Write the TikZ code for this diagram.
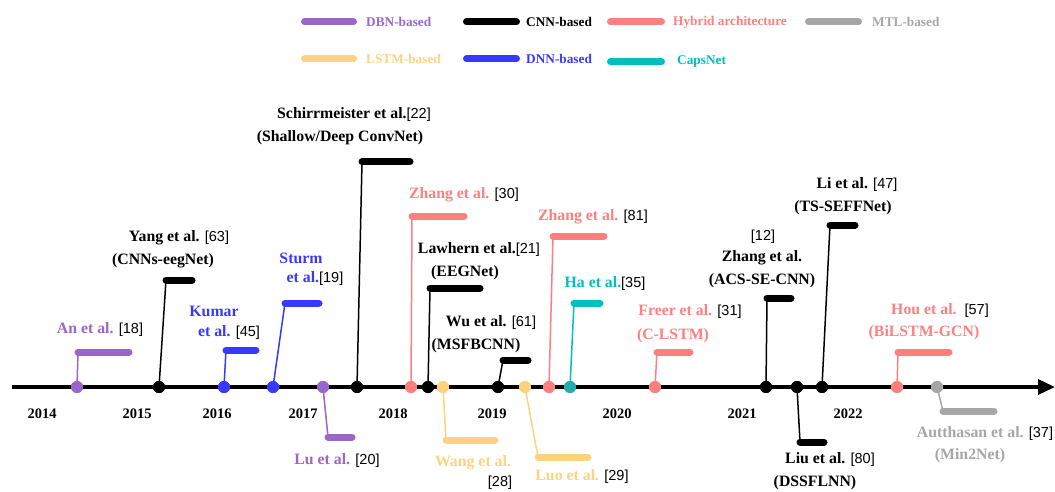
\documentclass[tikz,border=0pt]{standalone}
\usepackage{fontspec}
\setmainfont{Liberation Serif}
\newfontfamily\refsans{Liberation Sans}
\usetikzlibrary{arrows.meta}
\definecolor{dbn}{HTML}{9966CC}
\definecolor{hyb}{HTML}{FF7F7F}
\definecolor{mtl}{HTML}{A6A6A6}
\definecolor{lstm}{HTML}{FFD27F}
\definecolor{dnn}{HTML}{3838FF}
\definecolor{caps}{HTML}{00BFBF}
\newcommand{\nmfont}{\fontsize{15.8}{18}\selectfont\bfseries}
\newcommand{\rf}[1]{{\color{black}\refsans\mdseries\fontsize{14.5}{17}\selectfont #1}}
\newcommand{\yrfont}{\fontsize{14.5}{17}\selectfont\bfseries}
\newcommand{\lgfont}{\fontsize{13.3}{16}\selectfont\bfseries}
\tikzset{
  x=1pt, y=-1pt,
  ev/.style={circle, fill=#1, inner sep=0pt, minimum size=12pt},
  stemline/.style={draw=#1, line width=1.5pt},
  barline/.style={draw=#1, line width=7pt, line cap=round},
  lab/.style={text=#1, font=\nmfont, inner sep=0pt},
  yr/.style={font=\yrfont, inner sep=0pt},
  lg/.style={text=#1, font=\lgfont, inner sep=0pt, anchor=west},
  axisline/.style={draw=black, line width=3.5pt},
}
\begin{document}
\begin{tikzpicture}
\useasboundingbox (0,0) rectangle (1055,492);
% ---------- legend ----------
\coordinate (l1a) at (304.5,22); \coordinate (l1b) at (353.5,22);
\coordinate (l2a) at (466.5,22); \coordinate (l2b) at (516.5,22);
\coordinate (l3a) at (610.5,22); \coordinate (l3b) at (661.5,22);
\coordinate (l4a) at (808.5,22); \coordinate (l4b) at (858.5,22);
\coordinate (l5a) at (304.5,59); \coordinate (l5b) at (353.5,59);
\coordinate (l6a) at (466.5,59); \coordinate (l6b) at (516.5,59);
\coordinate (l7a) at (610.5,62); \coordinate (l7b) at (661.5,62);
\draw[barline=dbn] (l1a) -- (l1b);
\draw[barline=black] (l2a) -- (l2b);
\draw[barline=hyb] (l3a) -- (l3b);
\draw[barline=mtl] (l4a) -- (l4b);
\draw[barline=lstm] (l5a) -- (l5b);
\draw[barline=dnn] (l6a) -- (l6b);
\draw[barline=caps] (l7a) -- (l7b);
\node[lg=dbn] (t1) at (366,22) {DBN-based};
\node[lg=black] (t2) at (526,22) {CNN-based};
\node[lg=hyb] (t3) at (673,22) {Hybrid architecture};
\node[lg=mtl] (t4) at (872,22) {MTL-based};
\node[lg=lstm] (t5) at (366,59) {LSTM-based};
\node[lg=dnn] (t6) at (526,59) {DNN-based};
\node[lg=caps] (t7) at (677,62) {CapsNet};
% ---------- axis ----------
\coordinate (ax0) at (12,387);
\coordinate (ax1) at (1055,387);
\draw[axisline, -{Triangle[length=17pt,width=15pt]}] (ax0) -- (ax1);
% ---------- years ----------
\node[yr] (y14) at (42,414) {2014};
\node[yr] (y15) at (137,414) {2015};
\node[yr] (y16) at (217,414) {2016};
\node[yr] (y17) at (303,414) {2017};
\node[yr] (y18) at (393,414) {2018};
\node[yr] (y19) at (492,414) {2019};
\node[yr] (y20) at (617,414) {2020};
\node[yr] (y21) at (742,414) {2021};
\node[yr] (y22) at (848,414) {2022};
% ---------- event coordinates ----------
\coordinate (anA) at (78,352);   \coordinate (anB) at (129,352);
\coordinate (yaA) at (166,280);  \coordinate (yaB) at (192,280);
\coordinate (kuA) at (226,350);  \coordinate (kuB) at (256,350);
\coordinate (stA) at (285,303);  \coordinate (stB) at (319,303);
\coordinate (luA) at (328,437);  \coordinate (luB) at (352,437);
\coordinate (scA) at (362,162);  \coordinate (scB) at (410,162);
\coordinate (zaA) at (412,216);  \coordinate (zaB) at (464,216);
\coordinate (lwA) at (430,288);  \coordinate (lwB) at (480,288);
\coordinate (waA) at (446,440);  \coordinate (waB) at (495,440);
\coordinate (wuA) at (503,360);  \coordinate (wuB) at (528,360);
\coordinate (loA) at (538,457);  \coordinate (loB) at (588,457);
\coordinate (zbA) at (553,236);  \coordinate (zbB) at (604,236);
\coordinate (haA) at (574,303);  \coordinate (haB) at (600,303);
\coordinate (frA) at (657,352);  \coordinate (frB) at (690,352);
\coordinate (zcA) at (767,298);  \coordinate (zcB) at (791,298);
\coordinate (liuA) at (800,442); \coordinate (liuB) at (824,442);
\coordinate (liA) at (830,225);  \coordinate (liB) at (855,225);
\coordinate (hoA) at (898,352);  \coordinate (hoB) at (949,352);
\coordinate (auA) at (943,411);  \coordinate (auB) at (994,411);
% ---------- dots (placed, drawn later) ----------
\path
 (77,387)  node[ev=dbn]  (an) {}
 (159,387) node[ev=black] (ya) {}
 (224,387) node[ev=dnn]  (ku) {}
 (273,387) node[ev=dnn]  (st) {}
 (323,387) node[ev=dbn]  (lu) {}
 (357,387) node[ev=black] (sc) {}
 (411,387) node[ev=hyb]  (za) {}
 (428,387) node[ev=black] (lw) {}
 (443,387) node[ev=lstm] (wa) {}
 (498,387) node[ev=black] (wu) {}
 (525,387) node[ev=lstm] (lo) {}
 (549,387) node[ev=hyb]  (zb) {}
 (570,387) node[ev=caps!70!gray] (ha) {}
 (655,387) node[ev=hyb]  (fr) {}
 (766,387) node[ev=black] (zc) {}
 (797,387) node[ev=black] (liu) {}
 (822,387) node[ev=black] (li) {}
 (897,387) node[ev=hyb]  (ho) {}
 (937,387) node[ev=mtl]  (au) {};
% ---------- stems ----------
\begin{scope}[on background layer/.style={}]
\draw[stemline=dbn] (an.center) -- (anA);
\draw[stemline=black] (ya.center) -- (yaA);
\draw[stemline=dnn] (ku.center) -- (kuA);
\draw[stemline=dnn] (st.center) -- (stA);
\draw[stemline=dbn] (lu.center) -- (luA);
\draw[stemline=black] (sc.center) -- (scA);
\draw[stemline=hyb] (za.center) -- (zaA);
\draw[stemline=black] (lw.center) -- (lwA);
\draw[stemline=lstm] (wa.center) -- (waA);
\draw[stemline=black] (wu.center) -- (wuA);
\draw[stemline=lstm] (lo.center) -- (loA);
\draw[stemline=hyb] (zb.center) -- (zbA);
\draw[stemline=caps] (ha.center) -- (haA);
\draw[stemline=hyb] (fr.center) -- (frA);
\draw[stemline=black] (zc.center) -- (zcA);
\draw[stemline=black] (liu.center) -- (liuA);
\draw[stemline=black] (li.center) -- (liA);
\draw[stemline=hyb] (ho.center) -- (hoA);
\draw[stemline=mtl] (au.center) -- (auA);
\end{scope}
% ---------- bars ----------
\draw[barline=dbn] (anA) -- (anB);
\draw[barline=black] (yaA) -- (yaB);
\draw[barline=dnn] (kuA) -- (kuB);
\draw[barline=dnn] (stA) -- (stB);
\draw[barline=dbn] (luA) -- (luB);
\draw[barline=black] (scA) -- (scB);
\draw[barline=hyb] (zaA) -- (zaB);
\draw[barline=black] (lwA) -- (lwB);
\draw[barline=lstm] (waA) -- (waB);
\draw[barline=black] (wuA) -- (wuB);
\draw[barline=lstm] (loA) -- (loB);
\draw[barline=hyb] (zbA) -- (zbB);
\draw[barline=caps] (haA) -- (haB);
\draw[barline=hyb] (frA) -- (frB);
\draw[barline=black] (zcA) -- (zcB);
\draw[barline=black] (liuA) -- (liuB);
\draw[barline=black] (liA) -- (liB);
\draw[barline=hyb] (hoA) -- (hoB);
\draw[barline=mtl] (auA) -- (auB);
% ---------- dots on top ----------
\foreach \n/\c in {an/dbn,ya/black,ku/dnn,st/dnn,lu/dbn,sc/black,za/hyb,lw/black,wa/lstm,wu/black,lo/lstm,zb/hyb,ha/caps!70!gray,fr/hyb,zc/black,liu/black,li/black,ho/hyb,au/mtl}
  \fill[\c] (\n.center) circle (6);
% ---------- labels ----------
\node[lab=dbn] (anL) at (100,330) {An et al. \rf{[18]}};
\node[lab=black] (yaL1) at (179,238) {Yang et al. \rf{[63]}};
\node[lab=black] (yaL2) at (163,261) {(CNNs-eegNet)};
\node[lab=dnn] (kuL1) at (214,311) {Kumar};
\node[lab=dnn] (kuL2) at (229,333) {et al. \rf{[45]}};
\node[lab=dnn] (stL1) at (301,258) {Sturm};
\node[lab=dnn] (stL2) at (315,279) {et al.\rf{[19]}};
\node[lab=dbn] (luL) at (337,461) {Lu et al. \rf{[20]}};
\node[lab=black] (scL1) at (354,115) {Schirrmeister et al.\rf{[22]}};
\node[lab=black] (scL2) at (340,138) {(Shallow/Deep ConvNet)};
\node[lab=hyb] (zaL) at (464,195) {Zhang et al. \rf{[30]}};
\node[lab=black] (lwL1) at (479,250) {Lawhern et al.\rf{[21]}};
\node[lab=black] (lwL2) at (465,273) {(EEGNet)};
\node[lab=lstm] (waL1) at (473,463) {Wang et al.};
\node[lab=lstm] (waL2) at (500,483) {\rf{[28]}};
\node[lab=black] (wuL1) at (491,323) {Wu et al. \rf{[61]}};
\node[lab=black] (wuL2) at (476,346) {(MSFBCNN)};
\node[lab=lstm] (loL) at (582,477) {Luo et al. \rf{[29]}};
\node[lab=hyb] (zbL) at (593,217) {Zhang et al. \rf{[81]}};
\node[lab=caps] (haL) at (605,284) {Ha et al.\rf{[35]}};
\node[lab=hyb] (frL1) at (690,312) {Freer et al. \rf{[31]}};
\node[lab=hyb] (frL2) at (673,336) {(C-LSTM)};
\node[lab=black] (zcL0) at (763,237) {\rf{[12]}};
\node[lab=black] (zcL1) at (762,258) {Zhang et al.};
\node[lab=black] (zcL2) at (762,281) {(ACS-SE-CNN)};
\node[lab=black] (liuL1) at (830,460) {Liu et al. \rf{[80]}};
\node[lab=black] (liuL2) at (815,483) {(DSSFLNN)};
\node[lab=black] (liL1) at (857,185) {Li et al. \rf{[47]}};
\node[lab=black] (liL2) at (843,208) {(TS-SEFFNet)};
\node[lab=hyb] (hoL1) at (940,311) {Hou et al.\hspace{8pt}\rf{[57]}};
\node[lab=hyb] (hoL2) at (924,333) {(BiLSTM-GCN)};
\node[lab=mtl] (auL1) at (985,434) {Autthasan et al. \rf{[37]}};
\node[lab=mtl] (auL2) at (970,456) {(Min2Net)};
\end{tikzpicture}
\end{document}
